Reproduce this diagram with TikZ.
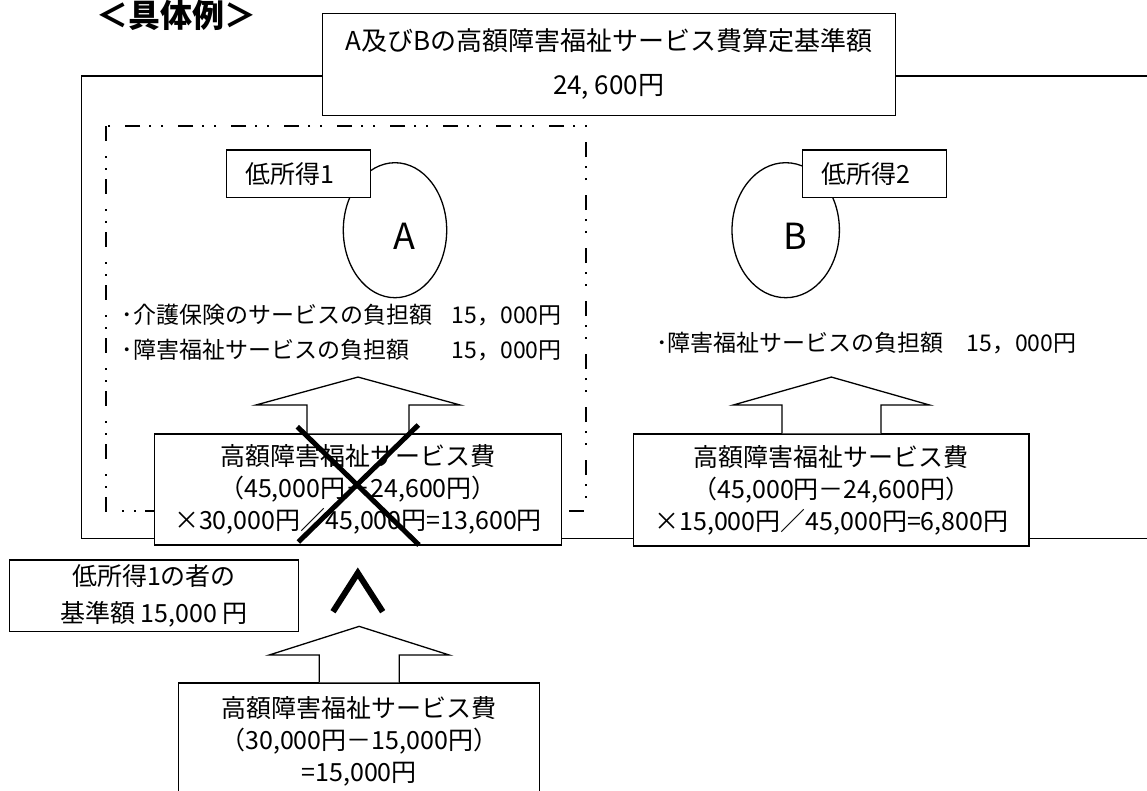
\documentclass[tikz,border=0pt]{standalone}
\usepackage{fontspec}
\setmainfont{Noto Sans CJK JP}
\usetikzlibrary{calc,shapes.geometric}

\begin{document}
\begin{tikzpicture}[x=1pt,y=-1pt,
   box/.style={draw,line width=1.3pt,fill=white,inner sep=0pt,align=center,font=\fontsize{25}{32}\selectfont},
   tag/.style={draw,line width=1.3pt,fill=white,inner xsep=19pt,inner ysep=0pt,text width=106pt,align=left,minimum height=47.7pt,font=\fontsize{25}{25}\selectfont},
   person/.style={draw,ellipse,line width=1.3pt,inner sep=0pt},
   letter/.style={font=\fontsize{36}{36}\selectfont,inner sep=0pt},
   note/.style={font=\fontsize{23}{23}\selectfont,inner sep=0pt},
   chain/.style={line width=2.2pt,dash pattern=on 15pt off 15pt on 2pt off 10pt on 2pt off 9pt},
   fatarrow/.style={draw,line width=1.3pt,fill=white,line join=miter},
   cross/.style={line width=5pt}]

  \useasboundingbox (0,0) rectangle (1147,790);

  \node[font=\bfseries\fontsize{32}{32}\selectfont,anchor=base,inner sep=0pt] (title) at (176,27) {＜具体例＞};

  \draw[line width=1.3pt] (1147,76) -- (81.7,76) -- (81.7,538.3) -- (1147,538.3);   % frame of A and B
  \node[box,minimum width=573pt,minimum height=102pt,font=\fontsize{26}{44}\selectfont] (base) at (608.7,64.2)
       {A及びBの高額障害福祉サービス費算定基準額\\24, 600円};

  \draw[chain] (106,126) rectangle (586,511);                                   % frame of A

  \node[person,minimum width=103.4pt,minimum height=135pt] (perA) at (395,230.2) {};
  \node[letter] (nameA) at (404.5,236.7) {A};
  \node[tag] (lowA) at (298.2,173.9) {低所得1};

  \node[person,minimum width=107.4pt,minimum height=135pt] (perB) at (785.7,230.2) {};
  \node[letter] (nameB) at (795.6,236.7) {B};
  \node[tag] (lowB) at (874.7,173.9) {低所得2};

  \node[note] (careA) at (341.7,315) {\makebox[440pt]{･介護保険のサービスの負担額\hfill 15，000円}};
  \node[note] (welfA) at (341.7,350) {\makebox[440pt]{･障害福祉サービスの負担額\hfill 15，000円}};
  \node[note,anchor=west] (welfB) at (655.8,343.3) {･障害福祉サービスの負担額　15，000円};

  \node[box,minimum width=407.4pt,minimum height=111pt] (costA) at (358,489.5)
       {高額障害福祉サービス費\\（45,000円－24,600円）\\×30,000円／45,000円=13,600円};
  \node[box,minimum width=395.2pt,minimum height=112pt] (costB) at (831.4,490)
       {高額障害福祉サービス費\\（45,000円－24,600円）\\×15,000円／45,000円=6,800円};

  \draw[fatarrow] ($(costA.north)+(-51,0)$) -- ++(0,-28.3) -- ++(-51.3,0) -- ($(costA.north)+(0,-56.3)$)
        -- ($(costA.north)+(102.3,-28.3)$) -- ++(-51.3,0) -- ++(0,28.3);            % up arrow A
  \draw[fatarrow] ($(costB.north)+(-49.5,0)$) -- ++(0,-28.3) -- ++(-48.8,0) -- ($(costB.north)+(0,-56.3)$)
        -- ($(costB.north)+(98.3,-28.3)$) -- ++(-48.8,0) -- ++(0,28.3);             % up arrow B

  \draw[cross] (297.3,426.7) -- (419,545);                                      % cross out
  \draw[cross] (418.3,425) -- (298.3,542);

  \node[box,minimum width=289pt,minimum height=71.7pt,font=\fontsize{25}{37}\selectfont] (limA) at (154,595.9)
       {低所得1の者の\\基準額 15,000 円};

  \draw[line width=6pt,line join=miter] (333,611.7) -- (357.8,573) -- (382.7,611.7);   % less than

  \node[box,minimum width=361pt,minimum height=117pt] (costLow) at (359.2,741.5)
       {高額障害福祉サービス費\\（30,000円－15,000円）\\=15,000円};
  \draw[fatarrow] ($(costLow.north)+(-40,0)$) -- ++(0,-27.3) -- ++(-50.2,0) -- ($(costLow.north)+(0,-56)$)
        -- ($(costLow.north)+(90.2,-27.3)$) -- ++(-50.2,0) -- ++(0,27.3);           % up arrow low income

\end{tikzpicture}
\end{document}
